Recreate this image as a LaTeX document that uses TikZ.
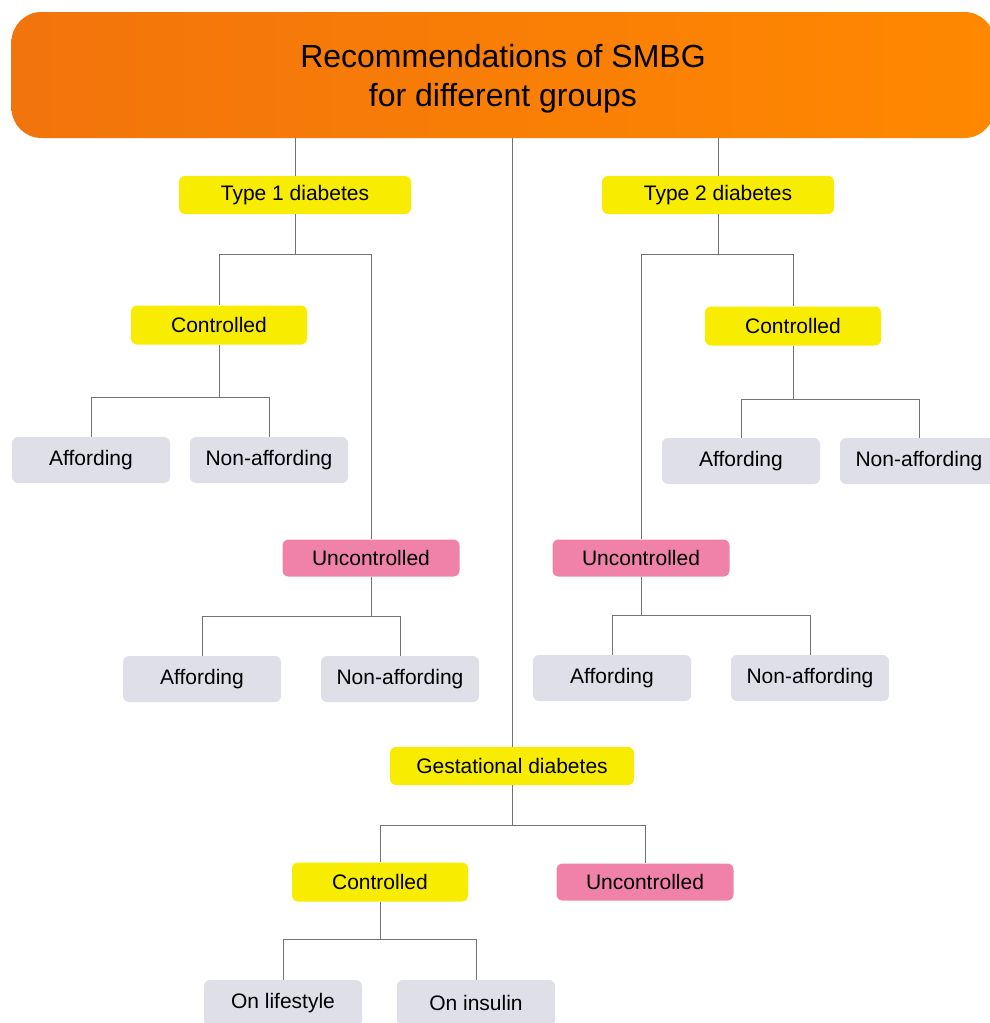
\documentclass[tikz,border=0pt]{standalone}
\usepackage{fontspec}
\setmainfont{Liberation Sans}
\usetikzlibrary{positioning}
\definecolor{titleDark}{RGB}{242,116,12}
\definecolor{titleLight}{RGB}{255,136,0}
\definecolor{groupYellow}{RGB}{248,236,0}
\definecolor{badPink}{RGB}{240,130,170}
\definecolor{leafGray}{RGB}{223,223,232}
\definecolor{linkGray}{gray}{0.45}

\begin{document}
\begin{tikzpicture}[x=1pt, y=-1pt,
    box/.style={rounded corners=6pt, inner sep=0pt, font=\fontsize{21}{25}\selectfont},
    titleBox/.style={rounded corners=30pt, inner sep=0pt, align=center, left color=titleDark, right color=titleLight,
        minimum width=983pt, minimum height=126pt, font=\fontsize{32}{39}\selectfont},
    groupBox/.style={box, fill=groupYellow, minimum width=232pt, minimum height=38pt},
    okBox/.style={box, fill=groupYellow, minimum width=176pt, minimum height=39pt},
    badBox/.style={box, fill=badPink, minimum width=177pt, minimum height=37pt},
    leafBox/.style={box, fill=leafGray, minimum width=158pt, minimum height=46pt},
    link/.style={draw=linkGray, line width=0.8pt}]
    \useasboundingbox (0,0) rectangle (990,1023);

    % boxes
    \node[titleBox] (smbg) at (503,75) {\raisebox{-4pt}[\height][\depth]{\begin{tabular}{@{}c@{}}Recommendations of SMBG\\for different groups\end{tabular}}};
    \node[groupBox] (typeOne) at (295,195) {Type 1 diabetes};
    \node[groupBox] (typeTwo) at (718,195) {Type 2 diabetes};
    \node[groupBox, minimum width=244pt] (gest) at (512,766) {Gestational diabetes};

    \node[okBox] (okOne) at (219,325) {Controlled};
    \node[badBox] (badOne) at (371,558) {Uncontrolled};
    \node[leafBox] (affOkOne) at (91,460) {Affording};
    \node[leafBox] (nonOkOne) at (269,460) {Non-affording};
    \node[leafBox] (affBadOne) at (202,679) {Affording};
    \node[leafBox] (nonBadOne) at (400,679) {Non-affording};

    \node[okBox] (okTwo) at (793,326) {Controlled};
    \node[badBox] (badTwo) at (641,558) {Uncontrolled};
    \node[leafBox] (affOkTwo) at (741,461) {Affording};
    \node[leafBox] (nonOkTwo) at (919,461) {Non-affording};
    \node[leafBox] (affBadTwo) at (612,678) {Affording};
    \node[leafBox] (nonBadTwo) at (810,678) {Non-affording};

    \node[okBox] (okGest) at (380,882) {Controlled};
    \node[badBox] (badGest) at (645,882) {Uncontrolled};
    \node[leafBox] (lifestyle) at (283,1003) {On lifestyle};
    \node[leafBox] (insulin) at (476,1003) {On insulin};

    % links from the title
    \foreach \grp in {typeOne, typeTwo, gest}
        \draw[link] (\grp.north) -- (\grp.north |- smbg.south);

    % branches
    \foreach \kid in {okOne, badOne}
        \draw[link] (typeOne.south) -- ++(0,40) -| (\kid.north);
    \foreach \kid in {affOkOne, nonOkOne}
        \draw[link] (okOne.south) -- ++(0,53) -| (\kid.north);
    \foreach \kid in {affBadOne, nonBadOne}
        \draw[link] (badOne.south) -- ++(0,40) -| (\kid.north);
    \foreach \kid in {okTwo, badTwo}
        \draw[link] (typeTwo.south) -- ++(0,40) -| (\kid.north);
    \foreach \kid in {affOkTwo, nonOkTwo}
        \draw[link] (okTwo.south) -- ++(0,54) -| (\kid.north);
    \foreach \kid in {affBadTwo, nonBadTwo}
        \draw[link] (badTwo.south) -- ++(0,39) -| (\kid.north);
    \foreach \kid in {okGest, badGest}
        \draw[link] (gest.south) -- ++(0,40) -| (\kid.north);
    \foreach \kid in {lifestyle, insulin}
        \draw[link] (okGest.south) -- ++(0,38) -| (\kid.north);
\end{tikzpicture}
\end{document}
